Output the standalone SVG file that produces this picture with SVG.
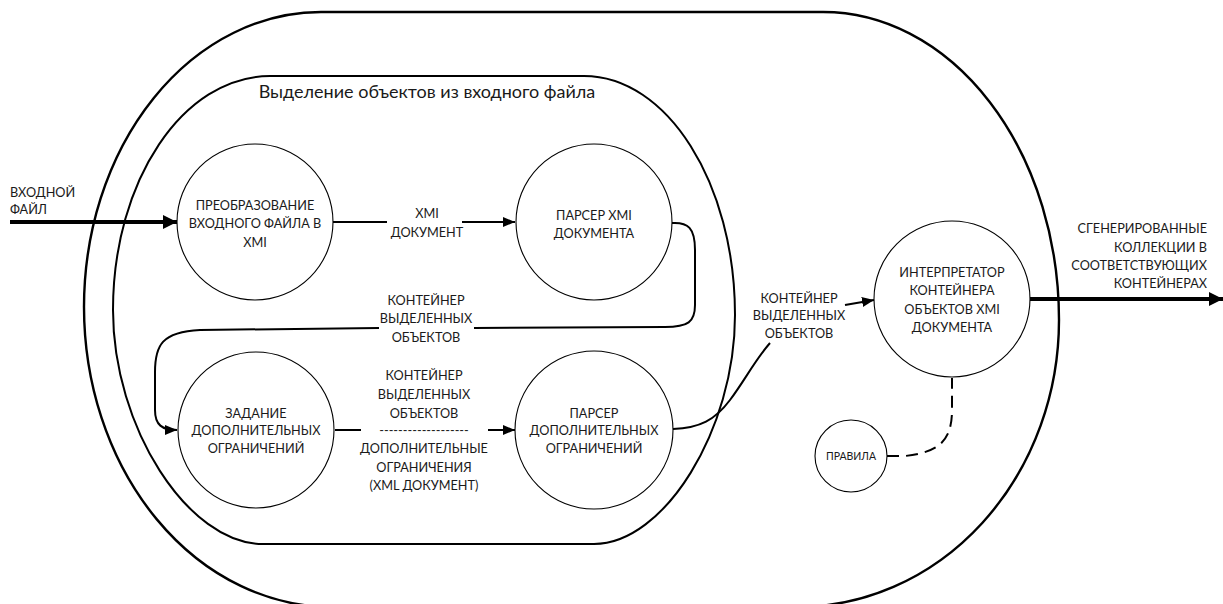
<svg xmlns="http://www.w3.org/2000/svg" width="1223" height="604" viewBox="0 0 1223 604">
<style>
.t{font-family:"Lato","Liberation Sans",sans-serif;font-size:12.7px;fill:#1a1a1a}
.m{text-anchor:middle}
.node{fill:#fff;stroke:#000;stroke-width:1.1}
.bound{fill:none;stroke:#000}
.c{fill:none;stroke:#000;stroke-width:2}
</style>
<defs>
<marker id="ah" markerUnits="userSpaceOnUse" markerWidth="12" markerHeight="10" refX="12" refY="5" orient="auto"><path d="M0,0 L12,5 L0,10 z" fill="#000"/></marker>
<marker id="ahb" markerUnits="userSpaceOnUse" markerWidth="14" markerHeight="14" refX="14" refY="7" orient="auto"><path d="M0,0 L14,7 L0,14 z" fill="#000"/></marker>
</defs>
<rect width="1223" height="604" fill="#fff"/>
<g id="outer-boundary">
<path class="bound" stroke-width="2.4" d="M321,12 L823,12 A236,308 0 0 1 1059,320 A262,287 0 0 1 797,607 L332,607 A248,300 0 0 1 84,307 A237,295 0 0 1 321,12 Z"/>
</g>
<g id="inner-boundary">
<path class="bound" stroke-width="2" d="M270,76 L584,76 C667,76 735,183 735,315 C735,430 664,544 594,544 L263,544 C188,544 113,427 113,310 C113,181 183,76 270,76 Z"/>
<text class="t m" x="427" y="98" style="font-size:18px">Выделение объектов из входного файла</text>
</g>
<g id="connectors">
<path d="M10,222 L177,222" fill="none" stroke="#000" stroke-width="4" marker-end="url(#ahb)"/>
<path class="c" d="M333,222 L387,222"/>
<path class="c" d="M462,222 L515,222" marker-end="url(#ah)"/>
<path class="c" d="M672,223 C688,222 695,228 695,250 L695,305 C695,322 688,327 665,327 L474,328"/>
<path class="c" d="M379,328 L200,330 C162,332 155,345 155,372 L155,410 C155,425 162,430 177,430" marker-end="url(#ah)"/>
<path class="c" stroke-width="2.5" d="M335,430 L361,430"/>
<path class="c" stroke-width="2.5" d="M488,430 L515,430" marker-end="url(#ah)"/>
<path class="c" d="M673,429 C700,428 715,420 730,400 C745,380 755,360 770,343"/>
<path class="c" d="M845,305 L874,300" marker-end="url(#ah)"/>
<path d="M1030,299 L1223,299" fill="none" stroke="#000" stroke-width="4" marker-end="url(#ahb)"/>
<path class="c" stroke-dasharray="12 7" d="M887,456 L905,456 C940,452 952,440 952,410 L952,378"/>
<text class="t" x="10" y="196.5">ВХОДНОЙ</text>
<text class="t" x="10" y="213.5">ФАЙЛ</text>
<text class="t m" x="427" y="217.5">XMI</text>
<text class="t m" x="427" y="236.5">ДОКУМЕНТ</text>
<text class="t m" x="426" y="304.5">КОНТЕЙНЕР</text>
<text class="t m" x="426" y="322.5">ВЫДЕЛЕННЫХ</text>
<text class="t m" x="426" y="341.5">ОБЪЕКТОВ</text>
<text class="t m" x="424" y="379.5">КОНТЕЙНЕР</text>
<text class="t m" x="424" y="398.5">ВЫДЕЛЕННЫХ</text>
<text class="t m" x="424" y="417.5">ОБЪЕКТОВ</text>
<text class="t m" x="424" y="434.5">-------------------</text>
<text class="t m" x="424" y="452.5">ДОПОЛНИТЕЛЬНЫЕ</text>
<text class="t m" x="424" y="471.5">ОГРАНИЧЕНИЯ</text>
<text class="t m" x="424" y="489.5">(XML ДОКУМЕНТ)</text>
<text class="t m" x="799" y="302.5">КОНТЕЙНЕР</text>
<text class="t m" x="799" y="319.5">ВЫДЕЛЕННЫХ</text>
<text class="t m" x="799" y="337.5">ОБЪЕКТОВ</text>
<text class="t" x="1207" y="232.5" text-anchor="end">СГЕНЕРИРОВАННЫЕ</text>
<text class="t" x="1207" y="251.5" text-anchor="end">КОЛЛЕКЦИИ В</text>
<text class="t" x="1207" y="269.5" text-anchor="end">СООТВЕТСТВУЮЩИХ</text>
<text class="t" x="1207" y="287.5" text-anchor="end">КОНТЕЙНЕРАХ</text>
</g>
<g id="node-convert">
<circle class="node" cx="255" cy="222" r="78"/>
<text class="t m" x="255" y="209.5">ПРЕОБРАЗОВАНИЕ</text>
<text class="t m" x="255" y="227.5">ВХОДНОГО ФАЙЛА В</text>
<text class="t m" x="255" y="246.5">XMI</text>
</g>
<g id="node-xmi-parser">
<circle class="node" cx="594" cy="222" r="78"/>
<text class="t m" x="594" y="219.5">ПАРСЕР XMI</text>
<text class="t m" x="594" y="237.5">ДОКУМЕНТА</text>
</g>
<g id="node-constraints">
<circle class="node" cx="256" cy="430" r="78"/>
<text class="t m" x="256" y="417.5">ЗАДАНИЕ</text>
<text class="t m" x="256" y="434.5">ДОПОЛНИТЕЛЬНЫХ</text>
<text class="t m" x="256" y="452.5">ОГРАНИЧЕНИЙ</text>
</g>
<g id="node-constraints-parser">
<circle class="node" cx="594" cy="430" r="79"/>
<text class="t m" x="594" y="417.5">ПАРСЕР</text>
<text class="t m" x="594" y="434.5">ДОПОЛНИТЕЛЬНЫХ</text>
<text class="t m" x="594" y="452.5">ОГРАНИЧЕНИЙ</text>
</g>
<g id="node-interpreter">
<circle class="node" cx="952" cy="299" r="78"/>
<text class="t m" x="952" y="276.5">ИНТЕРПРЕТАТОР</text>
<text class="t m" x="952" y="294.5">КОНТЕЙНЕРА</text>
<text class="t m" x="952" y="313.5">ОБЪЕКТОВ XMI</text>
<text class="t m" x="952" y="331.5">ДОКУМЕНТА</text>
</g>
<g id="node-rules">
<circle class="node" cx="851" cy="456" r="36"/>
<text class="t m" x="851" y="460" style="font-size:10.5px">ПРАВИЛА</text>
</g>
</svg>
